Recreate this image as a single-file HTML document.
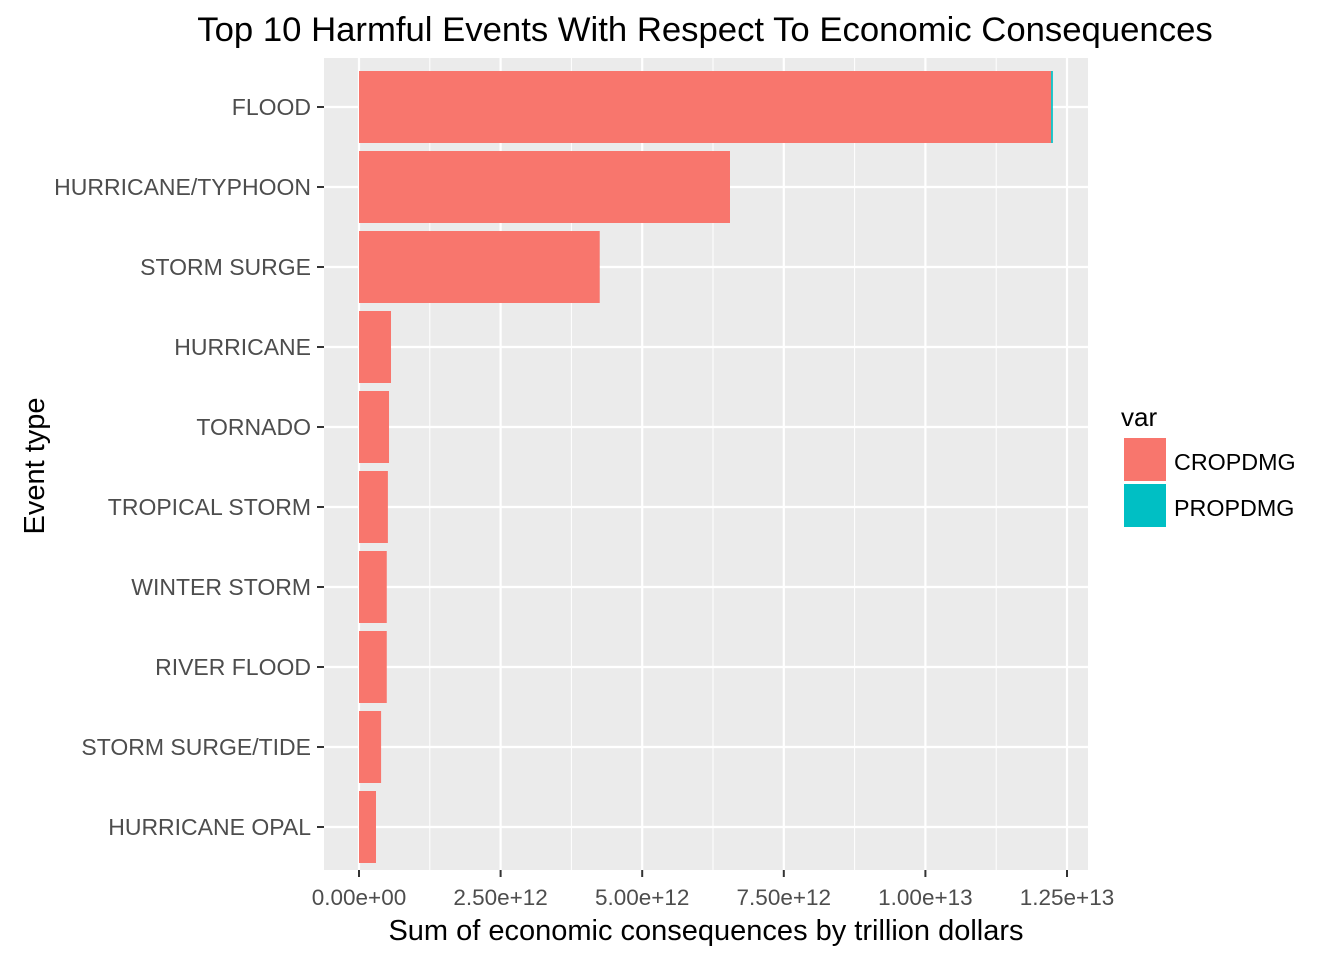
<!DOCTYPE html>
<html><head><meta charset="utf-8"><style>
body{margin:0;background:#fff;font-family:"Liberation Sans",Arial,sans-serif;}
</style></head><body>
<svg id="chart" width="1344" height="960" xmlns="http://www.w3.org/2000/svg" font-family="Liberation Sans, Arial, sans-serif">
<text x="705" y="41" font-size="34.7" text-anchor="middle" fill="#000">Top 10 Harmful Events With Respect To Economic Consequences</text>
<rect x="324" y="58" width="764" height="812" fill="#EBEBEB"/>
<g id="grid"></g>
<g id="bars"></g>
<g id="yaxis"></g>
<g id="xaxis"></g>
<text x="706" y="940" font-size="29" text-anchor="middle" fill="#000">Sum of economic consequences by trillion dollars</text>
<text transform="translate(44,466) rotate(-90)" font-size="29" text-anchor="middle" fill="#000">Event type</text>
<g>
<text x="1121" y="426" font-size="26" fill="#000">var</text>
<rect x="1124" y="438" width="42" height="43" fill="#F8766D"/>
<text x="1174" y="470" font-size="23.3" fill="#000">CROPDMG</text>
<rect x="1124" y="484" width="42" height="43" fill="#00BFC4"/>
<text x="1174" y="516" font-size="23.3" fill="#000">PROPDMG</text>
</g>
</svg>
<script>
const categories=["FLOOD","HURRICANE/TYPHOON","STORM SURGE","HURRICANE","TORNADO","TROPICAL STORM","WINTER STORM","RIVER FLOOD","STORM SURGE/TIDE","HURRICANE OPAL"];
const cropdmg=[12.22,6.55,4.25,0.565,0.53,0.51,0.49,0.49,0.39,0.30];
const propdmg=[0.03,0.0,0.0,0.0,0.0,0.0,0.0,0.0,0.0,0.0];
const xTicks=[0,2.5,5,7.5,10,12.5];
const xTickLabels=["0.00e+00","2.50e+12","5.00e+12","7.50e+12","1.00e+13","1.25e+13"];
const NS="http://www.w3.org/2000/svg";
const X0=359,PX=56.64;
function xs(v){return X0+v*PX;}
function ys(i){return 107+i*80;}
function mk(tag,attrs,parent){const e=document.createElementNS(NS,tag);for(const k in attrs)e.setAttribute(k,attrs[k]);document.getElementById(parent).appendChild(e);return e;}
for(let i=0;i<xTicks.length-1;i++){
 const m=(xTicks[i]+xTicks[i+1])/2;
 const g=mk("line",{x1:xs(m),x2:xs(m),y1:58,y2:870,stroke:"#fff","stroke-width":1},"grid");
 
 
}
xTicks.forEach((t,i)=>{
 const g=mk("line",{x1:xs(t),x2:xs(t),y1:58,y2:870,stroke:"#fff","stroke-width":2.2},"grid");
 
 
 const tk=mk("line",{x1:xs(t),x2:xs(t),y1:870,y2:877,stroke:"#333","stroke-width":2},"xaxis");
 
 
 const tx=mk("text",{x:xs(t),y:905,"font-size":22.5,"text-anchor":"middle",fill:"#4D4D4D"},"xaxis");
 tx.textContent=xTickLabels[i];
 
 
});
categories.forEach((c,i)=>{
 const y=ys(i);
 const g=mk("line",{x1:324,x2:1088,y1:y,y2:y,stroke:"#fff","stroke-width":2.2},"grid");
 
 
 const b=mk("rect",{x:xs(0),y:y-36,width:cropdmg[i]*PX,height:72,fill:"#F8766D"},"bars");
 
 
 const p=mk("rect",{x:xs(cropdmg[i]),y:y-36,width:propdmg[i]*PX,height:72,fill:"#00BFC4"},"bars");
 
 
 const tk=mk("line",{x1:317,x2:324,y1:y,y2:y,stroke:"#333","stroke-width":2},"yaxis");
 
 
 const tx=mk("text",{x:311,y:y+8,"font-size":23,"text-anchor":"end",fill:"#4D4D4D"},"yaxis");
 tx.textContent=c;
 
 
});
</script>
</body></html>
